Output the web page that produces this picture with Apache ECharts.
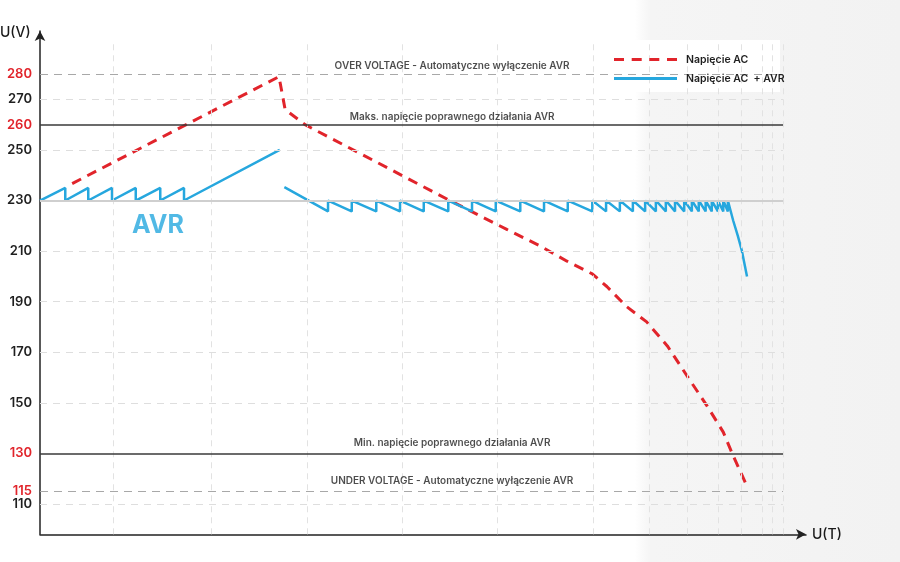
<!DOCTYPE html>
<html>
<head>
<meta charset="utf-8">
<script src="https://cdn.jsdelivr.net/npm/echarts@6/dist/echarts.min.js"></script>
<style>html,body{margin:0;padding:0;background:#fff}#c{width:900px;height:562px}</style>
</head>
<body>
<div id="c"></div>
<script>
// Napięcie AC (red dashed)
var redT = [4.2, 31.2, 32.0, 34.6, 53.5, 61.0, 65.3, 68.8, 72.1, 74.0, 76.6, 79.2, 81.9, 84.5, 87.1, 89.2, 90.5, 92.3];
var redV = [236.7, 279, 266, 260, 230, 218.5, 212, 206, 201, 196, 188, 182, 172.5, 160.5, 148.7, 138.4, 129, 117];
// Napięcie AC + AVR, first part (rising)
var blue1T = [0, 3.3, 3.3, 6.3, 6.3, 9.4, 9.4, 12.5, 12.5, 15.7, 15.7, 18.8, 18.8, 31.3];
var blue1V = [230, 235, 230, 235, 230, 235, 230, 235, 230, 235, 230, 235, 230, 250];
// Napięcie AC + AVR, second part (falling)
var blue2T = [31.9, 37.6, 37.6, 40.7, 40.7, 43.9, 43.9, 47.0, 47.0, 50.1, 50.1, 53.3, 53.3, 56.4, 56.4,
  59.5, 59.5, 62.7, 62.7, 65.8, 65.8, 68.9, 68.9, 72.1, 72.1, 73.9, 73.9, 75.7, 75.7, 77.4, 77.4,
  79.0, 79.0, 80.4, 80.4, 81.7, 81.7, 82.9, 82.9, 84.1, 84.1, 85.1, 85.1, 86.0, 86.0, 86.9, 86.9,
  87.7, 87.7, 88.5, 88.5, 89.2, 89.2, 89.8, 89.8, 90.5, 91.1, 91.6, 92.3];
var blue2V = [235.3, 225.7, 230, 225.7, 230, 225.7, 230, 225.7, 230, 225.7, 230, 225.7, 230, 225.7, 230,
  225.7, 230, 225.7, 230, 225.7, 230, 225.7, 230, 225.7, 230, 225.7, 230, 225.7, 230, 225.7, 230,
  225.7, 230, 225.7, 230, 225.7, 230, 225.7, 230, 225.7, 230, 225.7, 230, 225.7, 230, 225.7, 230,
  225.7, 230, 225.7, 230, 225.7, 230, 225.7, 230, 222, 216, 210.5, 200];

var yLabels = [280, 270, 260, 250, 230, 210, 190, 170, 150, 130, 115, 110];
var redLabels = [280, 260, 130, 115];
var lightGrid = [270, 250, 210, 190, 170, 150, 110];
var limitDashed = [280, 115];
var limitSolid = [260, 130];
var baseLine = [230];
var vGrid = [9.5, 22.3, 34.9, 47.3, 59.7, 72.2, 79.6, 84.5, 88.5, 91.6, 94.3, 95.6, 97.0];
var annotations = [
  {name: 'OVER VOLTAGE - Automatyczne wyłączenie AVR', v: 280, d: 3},
  {name: 'Maks. napięcie poprawnego działania AVR', v: 260, d: 3},
  {name: 'Min. napięcie poprawnego działania AVR', v: 130, d: 5},
  {name: 'UNDER VOLTAGE - Automatyczne wyłączenie AVR', v: 115, d: 5}
];
var xMin = 0, xMax = 100, lineEnd = 97.0, yMin = 98, yMax = 297, vTop = 293.5;
var annX = 53.8;
var avrPos = [15.4, 220.1];

function zip(a, b) { return a.map(function (x, i) { return [x, b[i]]; }); }
var FONT = 'Inter, "Open Sans", sans-serif';
var RED = '#e1242b', BLUE = '#26a7de';

var gridLines = [];
vGrid.forEach(function (t) {
  gridLines.push([{coord: [t, yMin], lineStyle: {color: '#e2e2e2', type: [6, 5], width: 1}}, {coord: [t, vTop]}]);
});
lightGrid.forEach(function (v) {
  gridLines.push([{coord: [xMin, v], lineStyle: {color: '#dedede', type: [7, 6], width: 1}}, {coord: [lineEnd, v]}]);
});
limitDashed.forEach(function (v) {
  gridLines.push([{coord: [xMin, v], lineStyle: {color: '#a8a8a8', type: [8, 6], width: 1.2}}, {coord: [lineEnd, v]}]);
});
baseLine.forEach(function (v) {
  gridLines.push([{coord: [xMin, v], lineStyle: {color: '#cfcfcf', type: 'solid', width: 2}}, {coord: [lineEnd, v]}]);
});
limitSolid.forEach(function (v) {
  gridLines.push([{coord: [xMin, v], lineStyle: {color: '#3a3a3a', type: 'solid', width: 1.5}}, {coord: [lineEnd, v]}]);
});

var dashIcon = 'path://M0,0h10v3h-10z M17.7,0h10v3h-10z M35.3,0h10v3h-10z M53,0h10v3h-10z';

var chart = echarts.init(document.getElementById('c'));
chart.setOption({
  animation: false,
  backgroundColor: '#ffffff',
  textStyle: {fontFamily: FONT},
  graphic: [
    {type: 'rect', z: -10, shape: {x: 635, y: 0, width: 265, height: 562},
      style: {fill: new echarts.graphic.LinearGradient(0, 0, 1, 0, [
        {offset: 0, color: 'rgba(243,243,243,0)'}, {offset: 0.06, color: '#f5f5f5'}, {offset: 1, color: '#f2f2f2'}])}},
    {type: 'rect', z: 3, shape: {x: 593, y: 40, width: 187, height: 52}, style: {fill: '#ffffff'}},
    {type: 'text', z: 5, left: 0, top: 26, style: {text: 'U(V)', fill: '#1a1a1a', font: '500 14px ' + FONT}}
  ],
  grid: {left: 40, right: 94, top: 31.1, bottom: 27.7},
  xAxis: {
    type: 'value', min: xMin, max: xMax,
    name: 'U(T)', nameLocation: 'end', nameGap: 6,
    nameTextStyle: {color: '#1a1a1a', fontSize: 14, fontWeight: 500, fontFamily: FONT},
    axisLine: {lineStyle: {color: '#222', width: 1.5}, symbol: ['none', 'arrow'], symbolSize: [8, 10], symbolOffset: [0, 0]},
    axisTick: {show: false}, axisLabel: {show: false}, splitLine: {show: false}
  },
  yAxis: {
    type: 'value', min: yMin, max: yMax, interval: 1,
    axisLine: {show: true, lineStyle: {color: '#222', width: 1.5}, symbol: ['none', 'arrow'], symbolSize: [8, 10]},
    axisTick: {show: false}, splitLine: {show: false},
    axisLabel: {
      margin: 8, showMinLabel: true, showMaxLabel: true,
      formatter: function (v) {
        if (yLabels.indexOf(v) < 0) return '';
        return (redLabels.indexOf(v) >= 0 ? '{r|' : '{b|') + v + '}';
      },
      rich: {
        r: {color: RED, fontSize: 13, fontWeight: 600, fontFamily: FONT},
        b: {color: '#1f1f1f', fontSize: 13, fontWeight: 600, fontFamily: FONT}
      }
    }
  },
  legend: {
    data: [
      {name: 'Napięcie AC', icon: dashIcon, itemStyle: {color: RED, opacity: 1}},
      {name: 'Napięcie AC  + AVR', icon: 'rect', itemStyle: {color: BLUE, opacity: 1}}
    ],
    orient: 'vertical', left: 609, top: 49, itemWidth: 63, itemHeight: 3, itemGap: 8, z: 6,
    textStyle: {color: '#1f1f1f', fontSize: 10.5, fontWeight: 600, fontFamily: FONT, padding: [0, 0, 0, 4]}
  },
  series: [
    {type: 'line', name: 'grid', data: [], silent: true, z: 1,
      markLine: {silent: true, symbol: ['none', 'none'], label: {show: false}, animation: false, data: gridLines}},
    {type: 'line', name: 'Napięcie AC', data: zip(redT, redV), showSymbol: false, symbol: 'none', z: 4,
      lineStyle: {color: RED, width: 3, type: [10, 7]}, itemStyle: {color: RED}},
    {type: 'line', name: 'Napięcie AC  + AVR', data: zip(blue1T, blue1V), showSymbol: false, symbol: 'none', z: 4,
      lineStyle: {color: BLUE, width: 2.5}, itemStyle: {color: BLUE}},
    {type: 'line', name: 'Napięcie AC  + AVR', data: zip(blue2T, blue2V), showSymbol: false, symbol: 'none', z: 4,
      lineStyle: {color: BLUE, width: 2.5}, itemStyle: {color: BLUE}},
    {type: 'scatter', name: 'annotations', symbolSize: 0, silent: true, z: 5,
      data: annotations.map(function (a) {
        return {value: [annX, a.v], label: {show: true, position: 'top', distance: a.d, formatter: a.name,
          color: '#1f1f1f', fontSize: 10, fontWeight: 600, fontFamily: FONT}};
      })},
    {type: 'scatter', name: 'avr', symbolSize: 0, silent: true, z: 5,
      data: [{value: avrPos, label: {show: true, position: 'inside', formatter: 'AVR',
        color: BLUE, fontSize: 25, fontWeight: 700, fontFamily: FONT}}]}
  ]
});
</script>
</body>
</html>
